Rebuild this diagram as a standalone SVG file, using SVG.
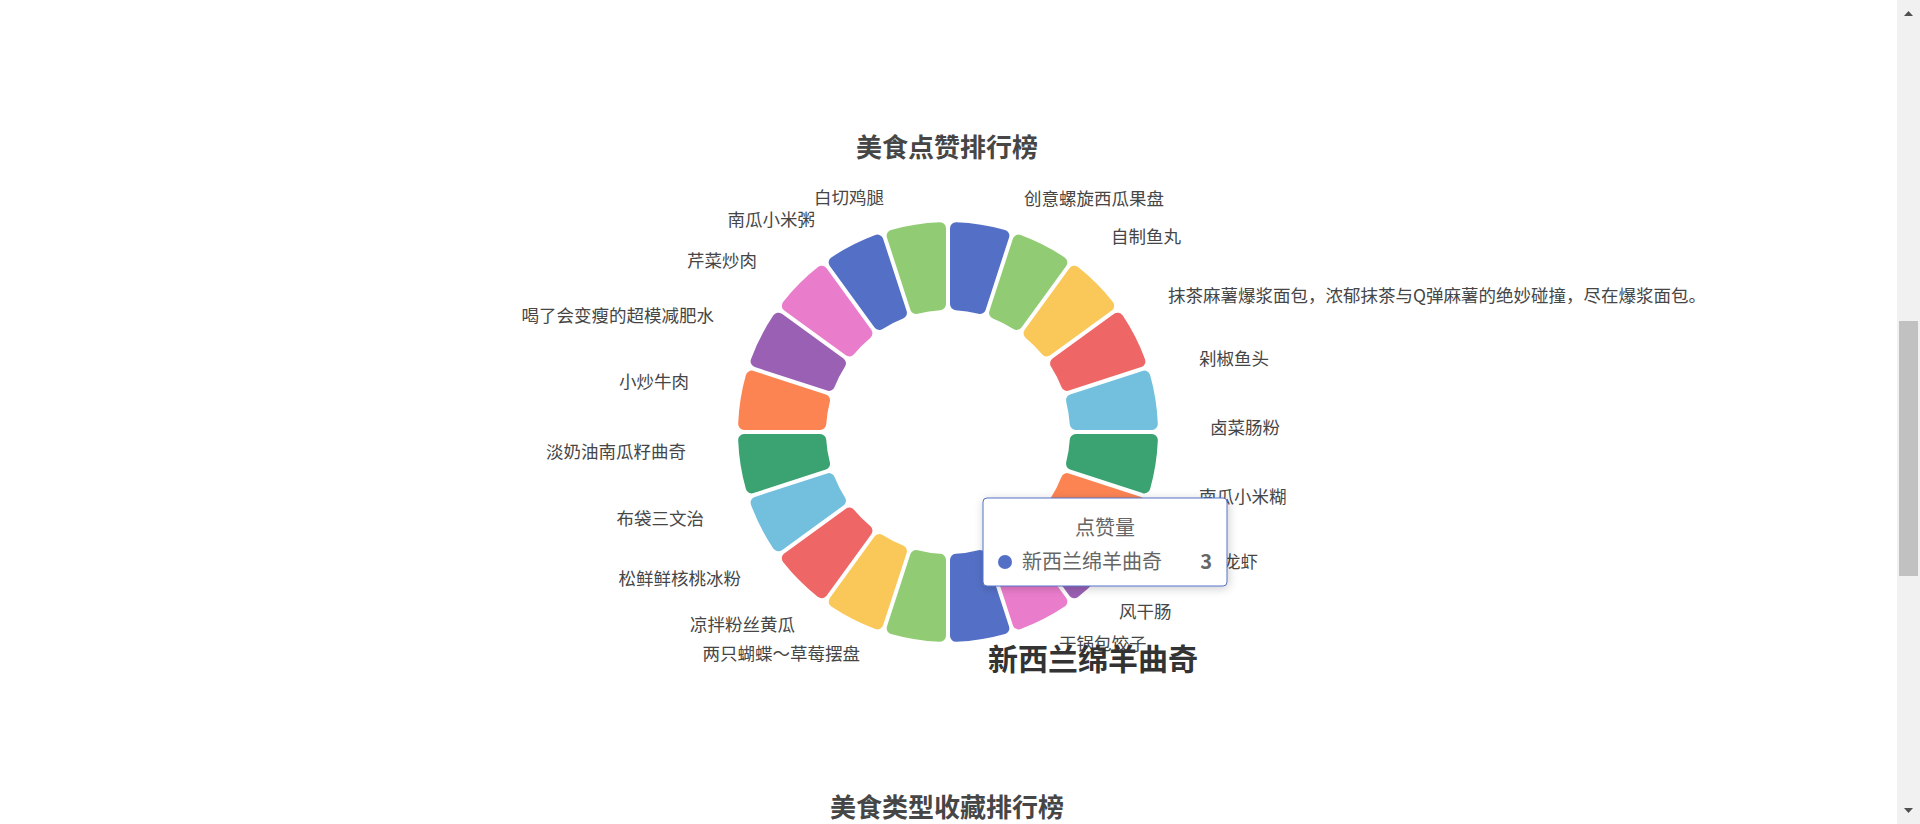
<svg xmlns="http://www.w3.org/2000/svg" width="1920" height="824" viewBox="0 0 1920 824">
<style>
text{font-family:"Noto Sans CJK SC","Liberation Sans",sans-serif;}
.t{font-size:26px;font-weight:bold;fill:#464646;text-anchor:middle;}
.l{font-size:17.5px;fill:#464646;}
.r{text-anchor:end;}
.seg{stroke-width:12;stroke-linejoin:round;}
</style>
<defs>
<path id="s" d="M -12.08 -127.43 L -23.98 -202.58 A 204 204 0 0 1 23.98 -202.58 L 12.08 -127.43 A 128 128 0 0 0 -12.08 -127.43 Z"/>
<filter id="sh" x="-20%" y="-20%" width="140%" height="160%"><feDropShadow dx="1" dy="2" stdDeviation="5" flood-color="#000" flood-opacity="0.2"/></filter>
</defs>
<rect width="1920" height="824" fill="#fff"/>
<g id="scrollbar">
<rect x="1897" y="0" width="23" height="824" fill="#f1f1f1"/>
<rect x="1899" y="321" width="19" height="255" fill="#c1c1c1"/>
<path d="M1904 16 L1908.5 11 L1913 16 Z" fill="#505050"/>
<path d="M1904 808 L1908.5 813 L1913 808 Z" fill="#505050"/>
</g>
<text class="t" x="947" y="157">美食点赞排行榜</text>
<g id="segments" transform="translate(948,432)">
<use href="#s" class="seg" fill="#5470c6" stroke="#5470c6" transform="rotate(9)"/>
<use href="#s" class="seg" fill="#91cc75" stroke="#91cc75" transform="rotate(27)"/>
<use href="#s" class="seg" fill="#fac858" stroke="#fac858" transform="rotate(45)"/>
<use href="#s" class="seg" fill="#ee6666" stroke="#ee6666" transform="rotate(63)"/>
<use href="#s" class="seg" fill="#73c0de" stroke="#73c0de" transform="rotate(81)"/>
<use href="#s" class="seg" fill="#3ba272" stroke="#3ba272" transform="rotate(99)"/>
<use href="#s" class="seg" fill="#fc8452" stroke="#fc8452" transform="rotate(117)"/>
<use href="#s" class="seg" fill="#9a60b4" stroke="#9a60b4" transform="rotate(135)"/>
<use href="#s" class="seg" fill="#ea7ccc" stroke="#ea7ccc" transform="rotate(153)"/>
<use href="#s" class="seg" fill="#5470c6" stroke="#5470c6" transform="rotate(171)"/>
<use href="#s" class="seg" fill="#91cc75" stroke="#91cc75" transform="rotate(189)"/>
<use href="#s" class="seg" fill="#fac858" stroke="#fac858" transform="rotate(207)"/>
<use href="#s" class="seg" fill="#ee6666" stroke="#ee6666" transform="rotate(225)"/>
<use href="#s" class="seg" fill="#73c0de" stroke="#73c0de" transform="rotate(243)"/>
<use href="#s" class="seg" fill="#3ba272" stroke="#3ba272" transform="rotate(261)"/>
<use href="#s" class="seg" fill="#fc8452" stroke="#fc8452" transform="rotate(279)"/>
<use href="#s" class="seg" fill="#9a60b4" stroke="#9a60b4" transform="rotate(297)"/>
<use href="#s" class="seg" fill="#ea7ccc" stroke="#ea7ccc" transform="rotate(315)"/>
<use href="#s" class="seg" fill="#5470c6" stroke="#5470c6" transform="rotate(333)"/>
<use href="#s" class="seg" fill="#91cc75" stroke="#91cc75" transform="rotate(351)"/>
</g>
<g id="labels">
<text class="l r" x="884" y="204">白切鸡腿</text>
<text class="l" x="1024" y="205">创意螺旋西瓜果盘</text>
<text class="l r" x="815" y="226">南瓜小米粥</text>
<text class="l" x="1111" y="243">自制鱼丸</text>
<text class="l r" x="757" y="267">芹菜炒肉</text>
<text class="l" x="1168" y="302">抹茶麻薯爆浆面包，浓郁抹茶与Q弹麻薯的绝妙碰撞，尽在爆浆面包。</text>
<text class="l r" x="714" y="322">喝了会变瘦的超模减肥水</text>
<text class="l" x="1199" y="365">剁椒鱼头</text>
<text class="l r" x="689" y="388">小炒牛肉</text>
<text class="l" x="1210" y="434">卤菜肠粉</text>
<text class="l r" x="686" y="458">淡奶油南瓜籽曲奇</text>
<text class="l" x="1199" y="503">南瓜小米糊</text>
<text class="l r" x="704" y="525">布袋三文治</text>
<text class="l r" x="1258" y="568">龙虾</text>
<text class="l r" x="741" y="585">松鲜鲜核桃冰粉</text>
<text class="l" x="1119" y="618">风干肠</text>
<text class="l r" x="795" y="631">凉拌粉丝黄瓜</text>
<text class="l" x="1059" y="650">干锅包饺子</text>
<text class="l r" x="860" y="660">两只蝴蝶～草莓摆盘</text>
<text x="1093" y="670" style="font-size:30px;font-weight:bold;fill:#333;text-anchor:middle">新西兰绵羊曲奇</text>
</g>
<g id="tooltip">
<rect x="983" y="498" width="244" height="88" rx="4" fill="#fff" stroke="#5470c6" stroke-width="1" filter="url(#sh)"/>
<text x="1105" y="535" style="font-size:20px;fill:#666;text-anchor:middle">点赞量</text>
<circle cx="1005" cy="562" r="7" fill="#5470c6"/>
<text x="1022" y="569" style="font-size:20px;fill:#666">新西兰绵羊曲奇</text>
<text x="1212" y="569" style="font-size:20px;font-weight:bold;fill:#666;text-anchor:end">3</text>
</g>
<text class="t" x="947" y="817">美食类型收藏排行榜</text>
</svg>
